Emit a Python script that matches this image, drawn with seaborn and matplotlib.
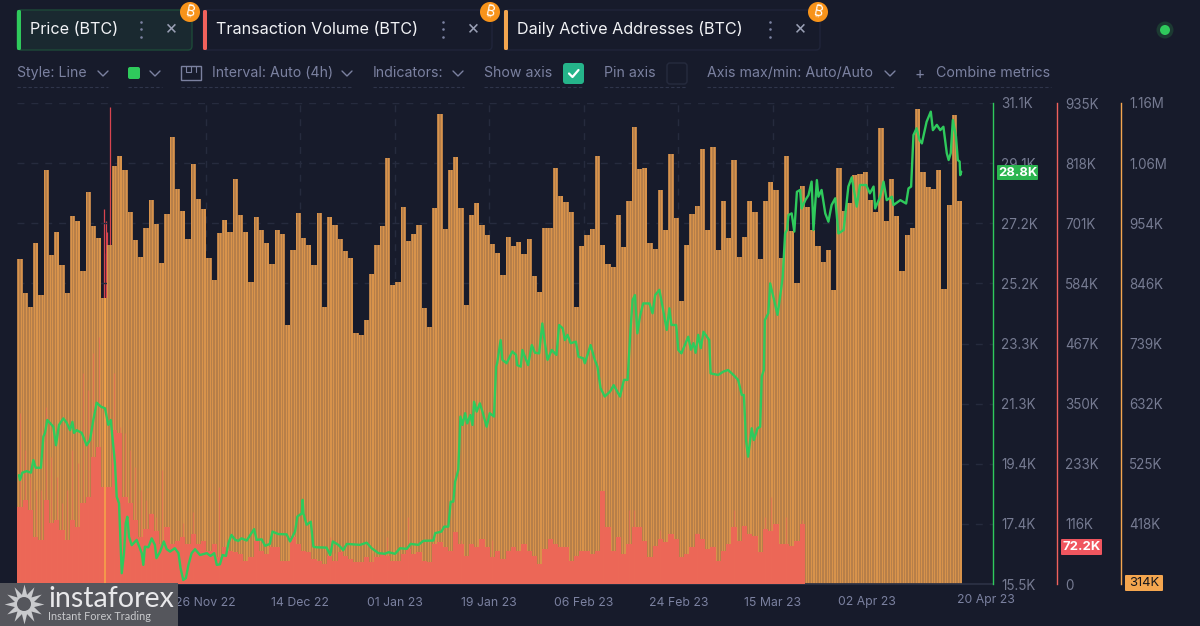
import numpy as np
import pandas as pd
import seaborn as sns
import matplotlib.pyplot as plt
from matplotlib.patches import Circle, FancyBboxPatch, Rectangle

# daily active addresses (thousands), one per day from 21 Oct 22
addresses = [885,826,801,914,823,1042,893,933,875,825,961,953,865,1004,943,923,817,910,1049,1066,
             1043,968,919,889,940,990,947,879,965,1100,1009,970,920,1052,991,974,887,849,931,955,
             933,1026,963,933,846,959,937,913,877,936,929,769,902,967,923,910,875,966,801,959,
             946,921,899,887,756,752,778,859,910,944,1063,840,845,977,917,930,945,800,766,976,
             1141,938,1042,1065,975,804,963,984,946,928,912,897,857,925,909,915,894,921,855,828,
             941,941,1045,996,985,969,802,909,927,938,1066,910,877,871,963,906,987,1118,1044,1046,
             913,903,1007,936,1071,957,812,911,964,978,1079,937,1082,901,987,923,1059,890,924,987,
             968,886,988,1021,1007,887,1066,934,843,1014,977,936,909,880,902,831,1046,970,984,1033,
             1036,1039,990,968,1116,953,1026,961,864,928,940,1149,1038,1012,1008,1043,832,980,1139,987]

# transaction volume (thousands), stops before the last month
volume = [150,163,144,91,86,163,119,124,105,86,124,111,157,169,247,266,189,189,299,294,
          169,157,124,91,107,136,103,78,111,78,84,92,78,98,78,84,64,78,53,72,
          64,63,59,45,53,84,64,59,72,72,45,45,92,78,64,63,49,45,39,55,
          45,63,55,49,43,43,53,43,53,59,55,45,45,59,68,59,63,45,43,78,
          82,72,64,101,78,55,78,72,88,72,53,64,49,64,72,64,78,64,55,39,
          68,88,78,72,72,45,55,64,64,59,64,180,111,64,92,59,78,111,111,84,
          53,74,88,82,98,88,53,59,72,98,88,68,72,45,64,78,111,84,113,98,
          94,63,107,103,117,78,78,74,84,117]

# thin 4h volume spikes that stand above the daily level
spike_day = [0.5,1.5,2.5,3.5,4.5,5.4,6.5,7.5,8.5,9.5,10.5,11.5,12.5,13.5,14.5,15.5,16.5,18.5,19.5,20.5,
             21.5,22.5,23.5,24.5,25.5,26.5,27.6,31.5,33.5,38.5,45.5,52.5,59.5,60.5,67.5,70.5,74.5,84.5,90.5,111.5,
             114.5,116.5,117.5,122.5,129.5,136.5,142.5,143.5,146.5,149.5]
spike_vol = [332,260,208,183,183,344,247,208,157,183,260,235,410,377,449,480,377,410,305,294,
             260,227,183,163,138,130,222,119,140,189,76,91,91,60,60,91,130,86,86,177,
             91,144,144,105,99,144,130,169,130,124]
# the crash-day spikes, these only show above the address bars
crash_day = [16.6, 16.8, 16.95, 17.08, 17.66]
crash_vol = [729, 643, 706, 684, 927]

# price trace (thousands), day offset and value
price_day = [0.32,0.51,0.95,1.79,2.6,3.05,3.5,4.5,4.96,5.28,5.7,6.55,6.86,7.37,7.94,8.77,9.4,10.04,10.5,10.8,
             11.3,12.27,13.2,13.85,14.48,15.12,15.94,16.7,17.33,17.8,18.6,18.93,19.37,19.89,20.32,20.65,20.95,21.28,21.79,22.74,
             23.7,24.0,24.3,24.96,25.6,26.2,26.5,27.2,27.9,28.45,29.1,30.0,30.7,31.1,31.6,32.1,32.6,33.2,33.85,34.8,
             36.1,36.8,37.5,38.0,38.6,39.1,39.75,40.2,40.8,41.5,42.1,42.7,43.7,44.6,45.1,45.6,46.55,47.2,48.1,48.6,
             49.7,51.3,51.95,52.9,53.35,54.2,54.35,54.5,55.1,55.9,56.4,57.0,58.9,59.6,60.1,61.15,62.1,62.75,65.3,66.55,
             67.5,68.8,70.0,70.7,71.95,72.9,74.2,74.9,76.4,77.35,79.25,79.6,80.8,81.3,82.1,82.55,83.05,83.4,84.0,84.4,
             84.8,85.3,85.7,86.3,86.7,87.0,87.5,88.1,88.6,89.4,90.0,90.8,91.2,91.4,92.06,92.4,93.2,94.3,95.0,95.2,
             95.9,96.2,97.3,98.0,98.6,99.4,100.0,100.5,101.0,101.8,102.7,103.2,103.9,104.3,104.8,105.4,106.4,106.9,107.8,108.1,
             108.6,109.2,110.0,110.5,111.1,111.9,112.9,113.6,114.8,115.55,116.25,116.8,117.2,117.65,118.1,118.6,119.2,120.4,121.0,121.5,
             122.3,122.9,123.7,124.2,124.6,125.5,125.9,126.5,127.8,128.3,128.8,129.2,129.7,130.2,130.7,131.8,132.06,133.5,134.5,135.4,
             136.4,137.3,138.0,138.4,138.8,139.2,139.9,140.3,141.0,141.5,141.8,142.2,142.4,143.05,143.4,144.0,144.8,145.3,145.8,146.25,
             146.6,146.9,147.5,148.0,148.5,149.1,149.4,150.1,150.7,151.3,151.65,152.3,152.6,153.2,153.9,154.5,155.1,155.8,156.4,157.4,
             158.3,158.95,159.9,160.5,161.7,162.4,163.1,163.4,164.35,165.0,165.6,166.6,166.9,168.2,169.3,169.75,170.25,170.7,171.3,171.85,
             172.3,173.2,174.0,174.4,175.15,175.8,176.4,177.05,177.4,177.8,178.2,178.8,179.15,179.5,179.6,179.8]
price = [19.03,18.87,19.11,19.16,19.11,19.52,19.27,19.27,20.28,20.4,20.82,20.66,20.6,20.0,20.66,20.87,20.73,20.49,20.76,20.4,
         20.49,20.4,20.0,20.17,20.82,21.38,21.25,21.2,20.66,20.82,19.41,18.33,18.12,15.85,16.5,17.47,17.68,17.03,16.76,16.93,
         16.5,16.12,16.71,16.69,16.98,16.77,16.34,16.55,16.88,16.63,16.55,16.66,16.5,16.01,15.63,15.69,16.12,16.5,16.63,16.44,
         16.5,16.41,16.5,16.12,16.14,16.44,16.41,16.82,17.09,16.93,16.9,16.98,16.91,17.15,17.28,16.93,16.95,16.74,16.8,17.2,
         17.12,17.11,16.88,17.2,17.69,17.79,18.23,17.79,17.42,17.52,16.71,16.69,16.68,16.44,16.88,16.77,16.6,16.8,16.77,16.84,
         16.66,16.5,16.48,16.53,16.48,16.66,16.64,16.8,16.77,16.9,16.91,17.15,17.2,17.36,17.36,18.17,18.17,18.82,19.2,20.93,
         20.66,21.04,20.71,20.98,20.66,21.41,21.09,21.36,21.09,20.6,21.04,20.93,22.55,22.66,23.41,22.77,22.66,23.04,22.93,22.6,
         22.55,23.09,22.6,23.25,23.0,22.98,23.95,23.31,22.77,23.09,22.93,23.9,23.79,23.41,23.58,23.31,23.36,22.87,22.82,22.66,
         22.93,23.25,22.77,22.55,21.85,21.58,21.74,21.95,21.58,22.12,22.12,23.74,24.71,24.87,23.63,24.17,24.6,24.6,24.28,24.87,
         25.04,24.5,23.74,24.44,23.9,23.9,23.09,22.98,23.52,23.1,23.31,23.0,23.58,23.15,23.68,23.41,22.33,22.28,22.39,22.44,
         22.28,22.12,21.63,21.63,20.17,19.63,20.55,20.17,20.55,20.6,22.23,22.44,24.06,24.28,25.25,24.82,24.23,24.82,25.47,26.87,
         26.98,27.47,27.52,26.93,28.22,28.28,27.68,27.95,28.11,28.55,26.98,28.6,28.06,28.28,27.52,27.25,27.79,28.01,26.87,26.98,
         28.39,28.69,27.74,28.44,28.44,28.17,28.39,27.68,28.06,28.55,27.95,28.06,27.79,27.95,27.84,28.33,28.39,30.06,30.28,29.9,
         29.79,30.49,30.82,30.22,30.39,30.22,30.33,29.47,29.25,29.47,30.55,30.01,29.25,29.2,28.76,28.87]

date_labels = ['26 Nov 22', '14 Dec 22', '01 Jan 23', '19 Jan 23', '06 Feb 23', '24 Feb 23', '15 Mar 23', '02 Apr 23']
date_ticks = [35.9, 53.9, 71.9, 89.9, 107.9, 125.9, 143.9, 161.9]
price_labels = ['15.5K', '17.4K', '19.4K', '21.3K', '23.3K', '25.2K', '27.2K', '29.1K', '31.1K']
volume_labels = ['0', '116K', '233K', '350K', '467K', '584K', '701K', '818K', '935K']
# the lowest address tick is the 314K badge further down
address_labels = ['', '418K', '525K', '632K', '739K', '846K', '954K', '1.06M', '1.16M']

BG = '#171b2b'
GREEN = '#2fca5c'
RED = '#f0615c'
ORANGE = '#f4a64f'
MUTED = '#7b81a0'
AXIS_TXT = '#767b92'
GRID = '#262b3e'
PX = 0.72  # points per pixel at dpi 100

sns.set_theme(style='dark')
plt.rcParams['font.family'] = ['Inter', 'DejaVu Sans']

W, H = 1200, 626
XLIM = (-0.06, 185.85)
rect = [17 / W, 1 - 584 / H, (993 - 17) / W, (584 - 103) / H]
fig = plt.figure(figsize=(W / 100, H / 100), dpi=100, facecolor=BG)

# crash spikes sit under everything else
ax_spike = fig.add_axes(rect, facecolor='none', zorder=-1)
ax_spike.vlines(crash_day, 0, crash_vol, color='#d8444f', lw=0.9)
ax_spike.set_xlim(XLIM)
ax_spike.set_ylim(0, 935)
ax_spike.axis('off')

ax = fig.add_axes(rect, facecolor='none')

days = np.arange(len(addresses)) + 0.5
addr_df = pd.DataFrame({'day': days, 'addr': addresses})
sns.barplot(data=addr_df, x='day', y='addr', native_scale=True, orient='x', width=1, color='#b77f49',
            saturation=1, linewidth=0, errorbar=None, ax=ax)

# the 4h bars alias into fine stripes when scaled down
stripe_df = pd.DataFrame({'day': np.concatenate([days - 0.25, days + 0.25]),
                          'addr': np.concatenate([addresses, addresses])})
sns.barplot(data=stripe_df, x='day', y='addr', native_scale=True, orient='x', width=0.42, color='#d8934b',
            saturation=1, linewidth=0, errorbar=None, ax=ax)

ax.set_ylim(314, 1160)
ax.set_xlim(XLIM)
ax.set_axisbelow(True)
ax.set_xticks(date_ticks, date_labels)
ax.set_yticks(np.linspace(314, 1160, 9))
ax.tick_params(axis='x', length=0, pad=9, labelsize=8.8, colors=MUTED)
ax.tick_params(axis='y', length=0, left=False, labelleft=False)
ax.set_xlabel('')
ax.set_ylabel('')
ax.grid(True, color=GRID, lw=1, ls=(0, (5, 5)))

# volume axis
ax_vol = ax.twinx()
ax_vol.set_facecolor('none')
vol_df = pd.DataFrame({'day': np.arange(len(volume)) + 0.5, 'vol': volume})
ax_vol.vlines(spike_day, 0, spike_vol, color='#ec6a58', lw=0.9, alpha=0.6)
sns.barplot(data=vol_df, x='day', y='vol', native_scale=True, orient='x', width=1, color='#ec6757',
            saturation=1, linewidth=0, errorbar=None, ax=ax_vol)
ax_vol.set_xlim(XLIM)
ax_vol.set_ylim(0, 935)

# address axis
ax_addr = ax.twinx()
ax_addr.set_facecolor('none')
ax_addr.set_ylim(314, 1160)
ax_addr.vlines(16.65, 314, addresses[16], color='#f7a648', lw=1.1)

# price axis
ax_price = ax.twinx()
ax_price.set_facecolor('none')
sns.lineplot(x=price_day, y=price, color=GREEN, lw=1.7, sort=False, estimator=None, ax=ax_price)
ax_price.set_ylim(15.5, 31.1)

axis_set = [(ax_price, 0, GREEN, np.linspace(15.5, 31.1, 9), price_labels),
            (ax_vol, 64, RED, np.linspace(0, 935, 9), volume_labels),
            (ax_addr, 128, ORANGE, np.linspace(314, 1160, 9), address_labels)]
for a, off, col, ticks, labels in axis_set:
    a.set_yticks(ticks, labels)
    a.tick_params(axis='y', length=0, pad=8 * PX, labelsize=9.7, colors=AXIS_TXT)
    a.set_ylabel('')
    a.grid(False)
    a.spines[['left', 'top', 'bottom']].set_visible(False)
    a.spines['right'].set_position(('outward', off * PX))
    a.spines['right'].set_color(col)
    a.spines['right'].set_linewidth(1)

ax.spines[['left', 'top', 'right']].set_visible(False)
ax.spines['bottom'].set_color('#2c3145')

# interface chrome drawn in pixel units on top of everything
ui = fig.add_axes([0, 0, 1, 1], facecolor='none', zorder=5)
ui.set_xlim(0, W)
ui.set_ylim(H, 0)
ui.axis('off')


def rbox(x0, y0, x1, y1, face, edge='none', r=3, lw=1):
    ui.add_patch(FancyBboxPatch((x0 + r, y0 + r), x1 - x0 - 2 * r, y1 - y0 - 2 * r, boxstyle=f'round,pad={r}',
                                fc=face, ec=edge, lw=lw))


# metric tabs
tabs = [(17, 192, GREEN, 'Price (BTC)', 30, 141, 171, '#1a2930', '#1d4a38'),
        (203, 492, RED, 'Transaction Volume (BTC)', 216, 443, 473, BG, '#20253a'),
        (504, 820, ORANGE, 'Daily Active Addresses (BTC)', 517, 770, 800, BG, '#20253a')]
for x0, x1, col, name, tx, dots, close, face, edge in tabs:
    rbox(x0, 10, x1, 50, face, edge, r=4)
    rbox(x0, 10, x0 + 4, 50, col, r=1.5)
    ui.text(tx, 29, name, color='#f2f3f6', fontsize=11.65, va='center', ha='left')
    ui.scatter([dots] * 3, [22, 29, 37], s=3.5, color=MUTED, lw=0)
    ui.text(close, 29, '×', color='#9aa0b5', fontsize=14, va='center', ha='center')
    ui.add_patch(Circle((x1 - 2, 12), 10, fc='#f7931a', ec='none'))
    ui.text(x1 - 2, 12, '₿', color='white', fontsize=10, va='center', ha='center', rotation=-12,
            family=['Inter', 'Roboto', 'Noto Sans', 'Open Sans', 'Lato', 'Noto Sans CJK SC', 'DejaVu Sans'])

# status light
ui.add_patch(Circle((1165, 30), 8.5, fc='#1c3a32', ec='none'))
ui.add_patch(Circle((1165, 30), 5, fc=GREEN, ec='none'))

# toolbar
toolbar = [('Style: Line', 17, 103), ('Interval: Auto (4h)', 212, 347), ('Indicators:', 373, 458),
           ('Show axis', 484, None), ('Pin axis', 604, None), ('Axis max/min: Auto/Auto', 707, 890)]
for label, tx, chev in toolbar:
    ui.text(tx, 73, label, color=MUTED, fontsize=10.2, va='center', ha='left')
    if chev:
        ui.plot([chev - 5, chev, chev + 5], [71, 76, 71], color=MUTED, lw=1)
ui.text(936, 73, 'Combine metrics', color=MUTED, fontsize=10.2, va='center', ha='left')
ui.text(920, 74, '+', color=MUTED, fontsize=11, va='center', ha='center')
ui.plot([150, 155, 160], [71, 76, 71], color=MUTED, lw=1)
for x0, x1 in [(17, 108), (128, 162), (181, 352), (373, 464), (484, 584), (604, 687), (707, 896), (917, 1051)]:
    ui.plot([x0, x1], [87, 87], color='#2f354b', lw=0.8, ls=(0, (3, 2)))
rbox(128, 67, 140, 79, GREEN, r=2)
ui.add_patch(Rectangle((181, 66), 20, 14, fc='none', ec=MUTED, lw=1))
ui.plot([186, 186, 191, 191, 196, 196], [66, 72, 72, 66, 66, 72], color=MUTED, lw=0.8)
rbox(563, 63, 584, 84, '#25b48a', r=3)
ui.plot([569, 572.5, 578.5], [73.5, 77, 70], color='white', lw=1.6)
rbox(667, 63, 687, 84, BG, '#262b3e', r=3)

# last date sits clamped past the end of the bars
ui.text(986, 600, '20 Apr 23', color=MUTED, fontsize=8.8, va='center', ha='center')

# current value badges, the price one covers the 29.1K tick
rbox(997, 165, 1038, 180, '#2bb54f', r=1)
ui.text(1017.5, 172.5, '28.8K', color='white', fontsize=9.4, fontweight='bold', va='center', ha='center')
rbox(1061, 539, 1102, 555, '#f0565f', r=1)
ui.text(1081.5, 547, '72.2K', color='white', fontsize=9.4, fontweight='bold', va='center', ha='center')
rbox(1125, 575, 1163, 591, ORANGE, r=1)
ui.text(1144, 583, '314K', color='#15161c', fontsize=9.4, va='center', ha='center')

# watermark
ui.add_patch(Rectangle((0, 583), 178, 43, fc='#55565c', ec='none', zorder=6))
ui.scatter([24], [604], s=820, marker=(12, 1, 0), color='#c9cacd', lw=0, zorder=7)
ui.add_patch(Circle((24, 604), 7, fc='#55565c', ec='none', zorder=8))
ui.text(48, 599, 'instaforex', color='#e8e8ea', fontsize=20.6, family='Lato', va='center', ha='left', zorder=9)
ui.text(48, 617, 'Instant Forex Trading', color='#c9cacd', fontsize=7.8, family='Lato', va='center', ha='left',
        zorder=9)

fig.savefig('out.png', dpi=100, facecolor=BG)
